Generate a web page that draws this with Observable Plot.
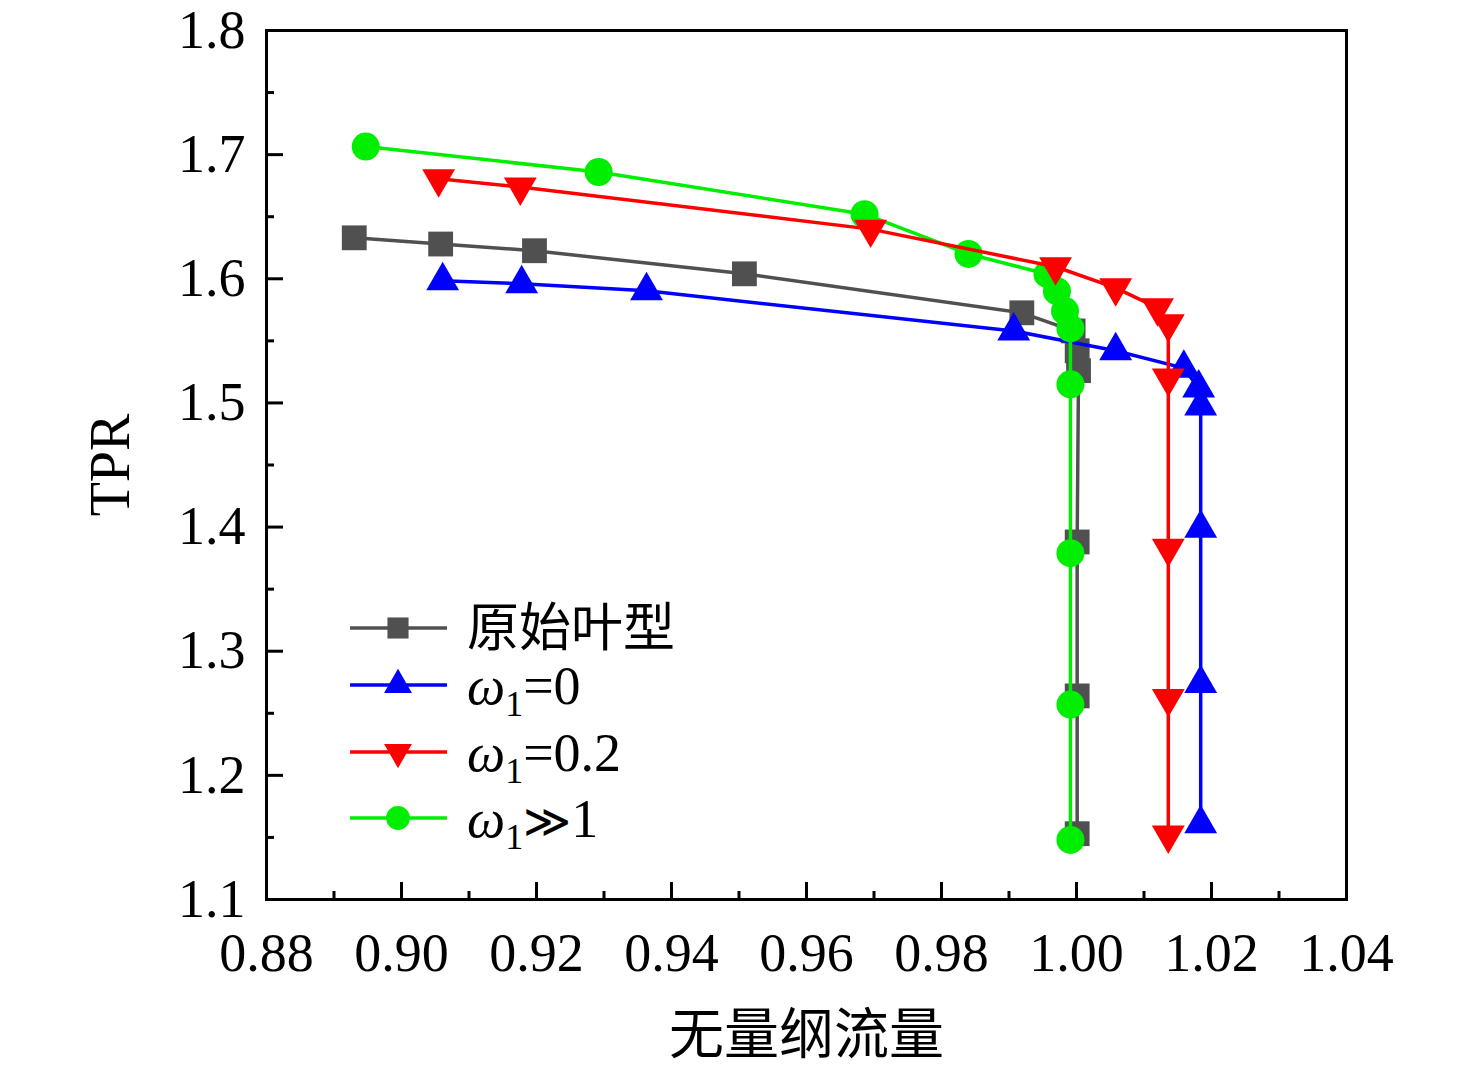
<!DOCTYPE html>
<html><head><meta charset="utf-8">
<script src="https://cdn.jsdelivr.net/npm/d3@7"></script>
<script src="https://cdn.jsdelivr.net/npm/@observablehq/plot@0.6"></script>
<style>
body{margin:0;background:#fff}
#chart{position:relative;width:1476px;height:1070px}
</style>
</head><body><div id="chart"></div>
<script>
// ---- data ----
const seriesNames = ["原始叶型", "ω1=0", "ω1=0.2", "ω1≫1"];

const flowOrig = [0.8930, 0.9058, 0.9197, 0.9508, 0.9919, 0.9995, 1.0001, 1.0003, 1.0001, 1.0001, 1.0001];
const tprOrig  = [1.633, 1.628, 1.6226, 1.604, 1.5726, 1.558, 1.542, 1.526, 1.388, 1.264, 1.153];

const flowW0 = [0.9061, 0.9178, 0.9363, 0.9907, 1.0058, 1.0159, 1.0181, 1.0184, 1.0184, 1.0184, 1.0184];
const tprW0  = [1.5984, 1.5960, 1.5903, 1.558, 1.542, 1.528, 1.512, 1.4976, 1.399, 1.274, 1.161];

const flowW02 = [0.9055, 0.9176, 0.9695, 0.9969, 1.0058, 1.0120, 1.0136, 1.0136, 1.0136, 1.0136, 1.0136];
const tprW02  = [1.6806, 1.674, 1.640, 1.6097, 1.5927, 1.5766, 1.5637, 1.520, 1.383, 1.262, 1.152];

const flowWinf = [0.8947, 0.9292, 0.9686, 0.9840, 0.9957, 0.9971, 0.9983, 0.9991, 0.9991, 0.9991, 0.9991, 0.9991];
const tprWinf  = [1.7065, 1.686, 1.652, 1.620, 1.6037, 1.590, 1.574, 1.560, 1.515, 1.379, 1.257, 1.148];

const xTicks = [0.88, 0.90, 0.92, 0.94, 0.96, 0.98, 1.00, 1.02, 1.04];
const xMinor = [0.89, 0.91, 0.93, 0.95, 0.97, 0.99, 1.01, 1.03];
const yTicks = [1.1, 1.2, 1.3, 1.4, 1.5, 1.6, 1.7, 1.8];
const yMinor = [1.15, 1.25, 1.35, 1.45, 1.55, 1.65, 1.75];
const xLabel = "无量纲流量";
const yLabel = "TPR";

// ---- styles ----
const colors = ["#505050", "#0000ff", "#ff0000", "#00ee00"];
const symbols = ["square", "triangle", "triangle", "circle"];
const rotates = [0, 0, 180, 0];
const radii = [14, 12.2, 12.2, 14];
const drawOrder = [0, 1, 3, 2];

const flows = [flowOrig, flowW0, flowW02, flowWinf];
const tprs = [tprOrig, tprW0, tprW02, tprWinf];
const seriesData = flows.map((f, s) => f.map((x, i) => ({x, y: tprs[s][i], s})));

const dataMarks = [];
for (const s of drawOrder) {
  dataMarks.push(Plot.line(seriesData[s], {x: "x", y: "y", stroke: colors[s], strokeWidth: 3.5}));
  dataMarks.push(Plot.dot(seriesData[s], {x: "x", y: "y", symbol: symbols[s], r: radii[s], fill: colors[s], stroke: "none", rotate: rotates[s]}));
}

const W = 1476, H = 1070;
const serif = "'Liberation Serif', 'Times New Roman', serif";
const plot = Plot.plot({
  width: W, height: H,
  marginLeft: 266, marginRight: 130, marginTop: 30, marginBottom: 171,
  style: {fontFamily: serif, fontSize: "54px", color: "#000", background: "#fff", overflow: "visible"},
  x: {domain: [0.88, 1.04], axis: null},
  y: {domain: [1.1, 1.8], axis: null},
  marks: [
    ...dataMarks,
    Plot.axisX({ticks: xTicks, tickSize: -17, tickFormat: () => "", strokeWidth: 3, label: null}),
    Plot.axisX({ticks: xMinor, tickSize: -8, tickFormat: () => "", strokeWidth: 3, label: null}),
    Plot.axisX({ticks: xTicks, tickSize: 0, tickPadding: 33, tickFormat: d3.format(".2f"), label: null}),
    Plot.axisY({ticks: yTicks, tickSize: -17, tickFormat: () => "", strokeWidth: 3, label: null}),
    Plot.axisY({ticks: yMinor, tickSize: -8, tickFormat: () => "", strokeWidth: 3, label: null}),
    Plot.axisY({ticks: yTicks, tickSize: 0, tickPadding: 21, tickFormat: d3.format(".1f"), label: null}),
    Plot.frame({stroke: "#000", strokeWidth: 3}),
    Plot.text([xLabel], {frameAnchor: "bottom", dy: 136, lineAnchor: "middle", textAnchor: "middle", text: d => d, fontSize: 55, fontFamily: "'Noto Sans CJK SC', sans-serif"}),
    Plot.text([yLabel], {frameAnchor: "left", dx: -155, rotate: -90, lineAnchor: "middle", textAnchor: "middle", text: d => d, fontSize: 56, fontFamily: serif})
  ]
});
document.getElementById("chart").appendChild(plot);

// ---- legend ----
const svg = d3.select(plot);
const lg = svg.append("g").attr("class", "legend").attr("text-anchor", "start");
const rowY = [628, 685, 752, 818];
const lineX0 = 350, lineX1 = 447, markX = 398, textX = 467;
const legendScale = 0.85;
seriesNames.forEach((name, s) => {
  const y = rowY[s];
  lg.append("line").attr("x1", lineX0).attr("x2", lineX1).attr("y1", y).attr("y2", y)
    .attr("stroke", colors[s]).attr("stroke-width", 3.5);
  const typ = {square: d3.symbolSquare, triangle: d3.symbolTriangle, circle: d3.symbolCircle}[symbols[s]];
  const r = radii[s] * legendScale;
  lg.append("path").attr("d", d3.symbol(typ, Math.PI * r * r)())
    .attr("transform", `translate(${markX},${y}) rotate(${rotates[s]})`)
    .attr("fill", colors[s]);
  const t = lg.append("text").attr("x", textX).attr("y", y + 19)
    .attr("text-anchor", "start")
    .attr("font-size", 54).attr("fill", "#000")
    .attr("font-family", serif);
  if (s === 0) {
    t.attr("font-family", "'Noto Sans CJK SC', sans-serif").attr("font-size", 52).attr("y", y + 18).text(name);
  } else {
    const rest = name.slice(2);
    t.append("tspan").attr("font-style", "italic").text("ω");
    t.append("tspan").attr("font-size", 36).attr("dy", 12).text("1");
    if (rest.startsWith("≫")) {
      t.append("tspan").attr("dy", -12).attr("font-family", "'DejaVu Serif', serif").attr("font-size", 46).text("≫");
      t.append("tspan").text(rest.slice(1));
    } else {
      t.append("tspan").attr("dy", -12).text(rest);
    }
  }
});
</script>
</body></html>
